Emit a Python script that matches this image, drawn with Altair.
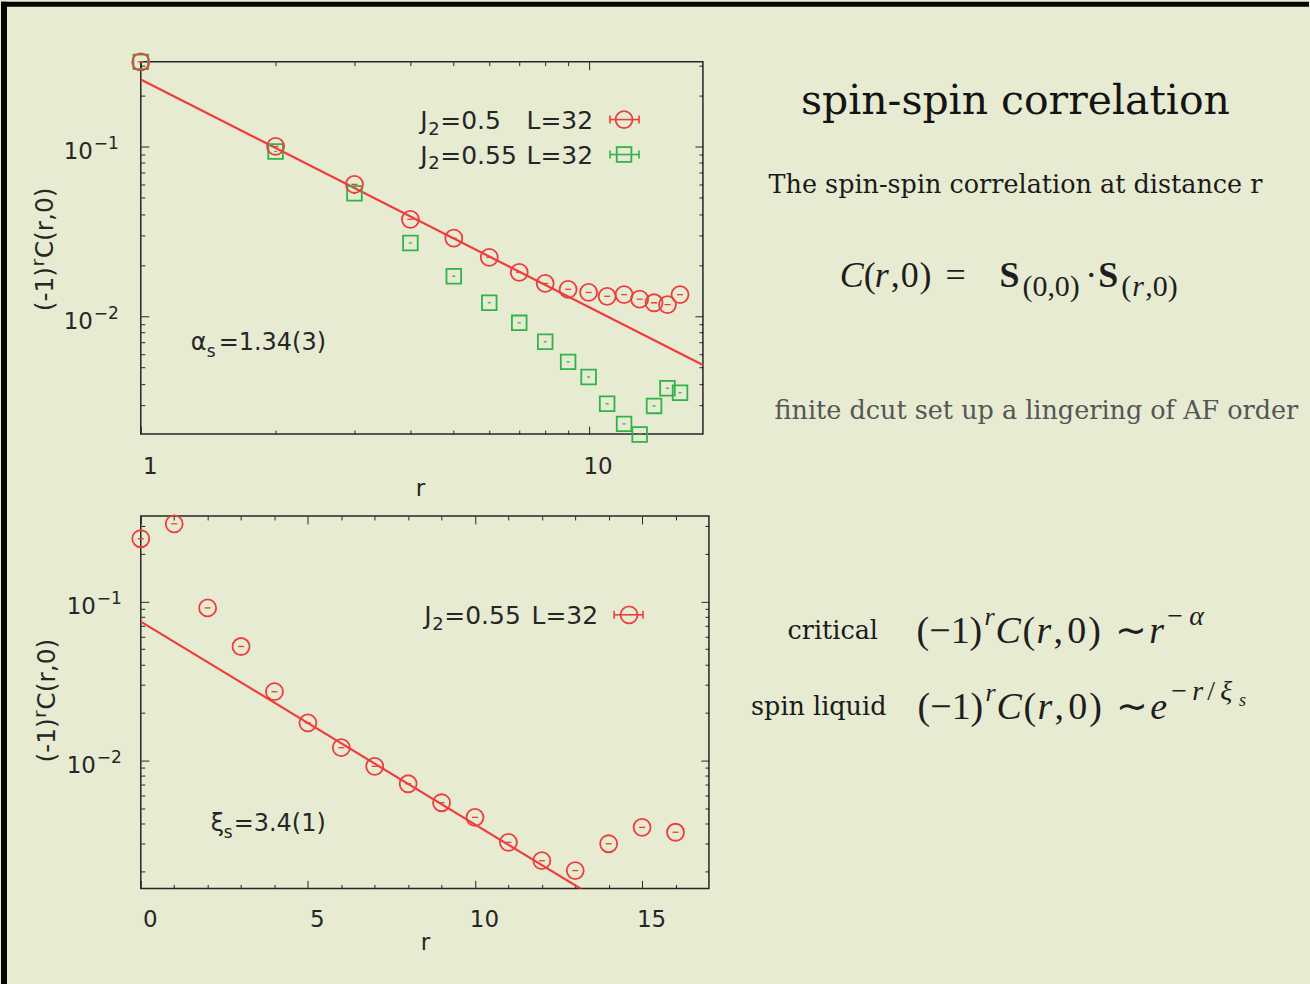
import altair as alt
import pandas as pd

# ---------------- data ----------------
# J2 = 0.5 and J2 = 0.55 staggered spin-spin correlation, L = 32 (log-log panel)
r_top = list(range(1, 17))
corr_j050 = [0.315, 0.100, 0.0598, 0.0372, 0.0288, 0.0222, 0.0181, 0.0156,
             0.0144, 0.0138, 0.0131, 0.0134, 0.0126, 0.0120, 0.0117, 0.0134]
corr_j055 = [0.315, 0.0934, 0.0529, 0.0270, 0.0172, 0.0120, 0.00914, 0.00707,
             0.00538, 0.00438, 0.00305, 0.00232, 0.00201, 0.00296, 0.00376, 0.00354]

# J2 = 0.55, L = 32 on a semi-log scale
r_bot = list(range(0, 17))
corr_bot = [0.248, 0.308, 0.0910, 0.0520, 0.0270, 0.0172, 0.0120, 0.00915,
            0.00711, 0.00540, 0.00437, 0.00304, 0.00233, 0.00202, 0.00298,
            0.00378, 0.00352]

# fits
alpha_s = 1.34      # C ~ A r^-alpha
pow_amp = 0.248
xi_s = 3.4          # C ~ B exp(-r/xi)
exp_amp = 0.0746

top_x_ticks = [1, 10]
top_x_minor = [2, 3, 4, 5, 6, 7, 8, 9]
y_major = [0.01, 0.1]
y_major_exp = ["\u22122", "\u22121"]
y_minor = [0.002, 0.003, 0.004, 0.005, 0.006, 0.007, 0.008, 0.009,
           0.02, 0.03, 0.04, 0.05, 0.06, 0.07, 0.08, 0.09, 0.2, 0.3]
bot_x_ticks = [0, 5, 10, 15]
bot_x_minor = [1, 2, 3, 4, 6, 7, 8, 9, 11, 12, 13, 14, 16]

# ---------------- style ----------------
BG = "#e7ebd2"
INK = "#262626"
RED = "#ee3d3d"
GREEN = "#2fb34a"
SANS = "DejaVu Sans"
SERIF = "DejaVu Serif"
MATH = "Liberation Serif"

ONE = pd.DataFrame({"k": [0]})

# panel geometry (page pixels)
OX1, OY1, W1, H1 = 140, 60, 563, 373
OX2, OY2, W2, H2 = 140, 515, 569, 373


def txt(s, x, y, size, ox, oy, font=SANS, color=INK, align="left",
        baseline="alphabetic", style=None, weight=None, angle=None):
    props = dict(text=s, font=font, fontSize=size, color=color,
                 align=align, baseline=baseline)
    if style:
        props["fontStyle"] = style
    if weight:
        props["fontWeight"] = weight
    if angle is not None:
        props["angle"] = angle
    return alt.Chart(ONE).mark_text(**props).encode(
        x=alt.value(x - ox), y=alt.value(y - oy))


def hrule(x1, x2, y, ox, oy, color, width=1.6):
    return alt.Chart(ONE).mark_rule(color=color, strokeWidth=width).encode(
        x=alt.value(x1 - ox), x2=alt.value(x2 - ox), y=alt.value(y - oy))


def vrule(x, y1, y2, ox, oy, color, width=1.6):
    return alt.Chart(ONE).mark_rule(color=color, strokeWidth=width).encode(
        x=alt.value(x - ox), y=alt.value(y1 - oy), y2=alt.value(y2 - oy))


def sym(x, y, ox, oy, shape, color, size):
    return alt.Chart(ONE).mark_point(shape=shape, filled=False, color=color,
                                     size=size, strokeWidth=1.8, opacity=1).encode(
        x=alt.value(x - ox), y=alt.value(y - oy))


def tick_axis(orient, values, size, labels=False, lab_off=0, lab_pad=0):
    kw = dict(orient=orient, values=values, tickSize=size, offset=-size,
              domain=False, grid=False, ticks=True, labels=labels,
              tickColor=INK, tickWidth=1)
    if labels:
        kw.update(labelFont=SANS, labelFontSize=23, labelColor=INK,
                  labelPadding=lab_pad, labelFlush=False, labelOverlap=False,
                  labelExpr="format(datum.value, 'd')", labelOffset=lab_off)
    return alt.Axis(**kw)


def axis_layers(df, xs, ys, xmaj, xmin, ymaj, ymin, xpad):
    specs = [("bottom", "left", 8, xmaj, ymaj, True),
             ("top", "right", 8, xmaj, ymaj, False),
             ("bottom", "left", 4, xmin, ymin, False),
             ("top", "right", 4, xmin, ymin, False)]
    out = []
    for xo, yo, size, xv, yv, lab in specs:
        out.append(
            alt.Chart(df).mark_point(opacity=0).encode(
                x=alt.X("r:Q", scale=xs, title=None,
                        axis=tick_axis(xo, xv, size, lab, 9, xpad)),
                y=alt.Y("c:Q", scale=ys, title=None,
                        axis=tick_axis(yo, yv, size, False)),
            )
        )
    return out


def decade_labels(ys, x_right):
    # "10" with a raised exponent, placed through the y scale
    lab = pd.DataFrame({"c": y_major, "e": y_major_exp})
    base = alt.Chart(lab).mark_text(text="10", font=SANS, fontSize=23, color=INK,
                                    align="right", baseline="alphabetic", dy=13).encode(
        x=alt.value(x_right), y=alt.Y("c:Q", scale=ys, axis=None))
    sup = alt.Chart(lab).mark_text(font=SANS, fontSize=17, color=INK,
                                   align="left", baseline="alphabetic", dy=3).encode(
        x=alt.value(x_right + 1), y=alt.Y("c:Q", scale=ys, axis=None), text="e:N")
    return [base, sup]


def ytitle(x_base, y_start, ox, oy):
    # (-1)^r C(r,0), rotated, reading upwards
    return [
        txt("(-1)", x_base, y_start, 25, ox, oy, angle=270),
        txt("r", x_base - 9, y_start - 45, 18, ox, oy, angle=270),
        txt("C(r,0)", x_base, y_start - 53, 25, ox, oy, angle=270),
    ]


# ---------------- top panel ----------------
xs1 = alt.Scale(type="log", domain=[1, 18], nice=False)
ys1 = alt.Scale(type="log", domain=[0.00202, 0.316], nice=False)

df050 = pd.DataFrame({"r": r_top, "c": corr_j050})
df055 = pd.DataFrame({"r": r_top, "c": corr_j055})
fit_r = [1, 18]
df_pow = pd.DataFrame({"r": fit_r, "c": [pow_amp * r ** (-alpha_s) for r in fit_r]})

o1 = (OX1, OY1)
top_layers = [
    alt.Chart(ONE).mark_rect(color="#050505").encode(
        x=alt.value(-OX1), x2=alt.value(1310 - OX1),
        y=alt.value(-OY1), y2=alt.value(5 - OY1)),
    alt.Chart(ONE).mark_rect(color="#050505").encode(
        x=alt.value(-OX1), x2=alt.value(6 - OX1),
        y=alt.value(-OY1), y2=alt.value(984 - OY1)),
]
top_layers += axis_layers(df050, xs1, ys1, top_x_ticks, top_x_minor, y_major,
                          [v for v in y_minor if v > 0.00202], 21)
top_layers += decade_labels(ys1, 92 - OX1)

top_layers.append(
    alt.Chart(df_pow).mark_line(color=RED, strokeWidth=2.2).encode(
        x=alt.X("r:Q", scale=xs1, axis=None), y=alt.Y("c:Q", scale=ys1, axis=None)))
for df, shape, color, size, dash in [(df055, "square", GREEN, 215, 3),
                                     (df050, "circle", RED, 290, 6)]:
    top_layers.append(
        alt.Chart(df).mark_point(shape=shape, filled=False, color=color, size=size,
                                 strokeWidth=1.8, opacity=1).encode(
            x=alt.X("r:Q", scale=xs1, axis=None), y=alt.Y("c:Q", scale=ys1, axis=None)))
    top_layers.append(
        alt.Chart(df).mark_tick(orient="horizontal", color=color, size=dash,
                                thickness=1.3, opacity=1).encode(
            x=alt.X("r:Q", scale=xs1, axis=None), y=alt.Y("c:Q", scale=ys1, axis=None)))

# key
for yy, label, shape, color, size in [(118, "=0.5", "circle", RED, 290),
                                      (153, "=0.55", "square", GREEN, 215)]:
    top_layers += [
        txt("J", 420, yy + 9, 25, *o1),
        txt("2", 428, yy + 15, 18, *o1),
        txt(label, 440, yy + 9, 25, *o1),
        txt("L=32", 593, yy + 9, 25, *o1, align="right"),
        hrule(610, 639, yy, *o1, color),
        vrule(610, yy - 4, yy + 4, *o1, color),
        vrule(639, yy - 4, yy + 4, *o1, color),
        sym(624, yy, *o1, shape, color, size),
    ]
# fit annotation and axis titles
top_layers += [
    txt("\u03b1", 190, 349, 24, *o1),
    txt("s", 206, 356, 17, *o1),
    txt("=1.34(3)", 218, 349, 24, *o1),
    txt("r", 420, 488, 23, *o1, baseline="middle", align="center"),
]
top_layers += ytitle(52, 310, *o1)

# slide text on the right
top_layers += [
    txt("spin-spin correlation", 1016, 112, 41, *o1, font=SERIF, color="#141414",
        align="center"),
    txt("The spin-spin correlation at distance r", 1016, 192, 25.5, *o1,
        font=SERIF, color="#1a1a1a", align="center"),
    txt("finite dcut set up a lingering of AF order", 1037, 418, 25.5, *o1,
        font=SERIF, color="#555555", align="center"),
    txt("critical", 833, 638, 25.5, *o1, font=SERIF, color="#1a1a1a", align="center"),
    txt("spin liquid", 819, 714, 25.5, *o1, font=SERIF, color="#1a1a1a", align="center"),
]

# C(r,0) = S(0,0) . S(r,0)
M, S = 36, 30
b0, s0 = 286, 295
math = [
    ("C", 840, b0, M, "italic", None),
    ("(", 864, b0, M, None, None),
    ("r", 875, b0, M, "italic", None),
    (",", 891, b0, M, None, None),
    ("0", 901, b0, M, None, None),
    (")", 920, b0, M, None, None),
    ("=", 946, b0, M, None, None),
    ("S", 1000, b0, M, None, "bold"),
    ("(0,0)", 1023, s0, S, None, None),
    ("\u00b7", 1086, b0, M, None, None),
    ("S", 1099, b0, M, None, "bold"),
    ("(", 1122, s0, S, None, None),
    ("r", 1133, s0, S, "italic", None),
    (",0)", 1146, s0, S, None, None),
]
# critical / spin liquid asymptotics
M2, S2 = 38, 28
for base, tail, dx in [(642, "pow", 0), (718, "exp", 1)]:
    math += [
        ("(\u22121)", 917 + dx, base, M2, None, None),
        ("r", 985 + dx, base - 18, S2 - 2, "italic", None),
        ("C", 996 + dx, base, M2, "italic", None),
        ("(", 1023 + dx, base, M2, None, None),
        ("r", 1037 + dx, base, M2, "italic", None),
        (",", 1054 + dx, base, M2, None, None),
        ("0", 1068 + dx, base, M2, None, None),
        (")", 1089 + dx, base, M2, None, None),
        ("\u223c", 1116 + dx, base, M2, None, None),
    ]
    if tail == "pow":
        math += [("r", 1150, base, M2, "italic", None),
                 ("\u2212", 1168, base - 18, S2, None, None),
                 ("\u03b1", 1190, base - 18, S2, "italic", None)]
    else:
        math += [("e", 1151, base, M2, "italic", None),
                 ("\u2212", 1172, base - 19, S2, None, None),
                 ("r", 1193, base - 19, S2, "italic", None),
                 ("/", 1208, base - 19, S2, None, None),
                 ("\u03be", 1221, base - 19, S2, "italic", None),
                 ("s", 1240, base - 13, 18, "italic", None)]

for s, x, y, size, style, weight in math:
    top_layers.append(txt(s, x, y, size, *o1, font=MATH, color="#1e1e1e",
                          style=style, weight=weight))

top = alt.layer(*top_layers).properties(width=W1, height=H1).resolve_axis(
    x="independent", y="independent")

# ---------------- bottom panel ----------------
xs2 = alt.Scale(type="linear", domain=[0, 17], nice=False, zero=False)
ys2 = alt.Scale(type="log", domain=[0.00156, 0.345], nice=False)

dfb = pd.DataFrame({"r": r_bot, "c": corr_bot})
fit_rb = [0, 17]
df_exp = pd.DataFrame({"r": fit_rb,
                       "c": [exp_amp * 2.718281828459045 ** (-r / xi_s) for r in fit_rb]})

o2 = (OX2, OY2)
bot_layers = axis_layers(dfb, xs2, ys2, bot_x_ticks, bot_x_minor, y_major, y_minor, 20)
bot_layers += decade_labels(ys2, 95 - OX2)
bot_layers.append(
    alt.Chart(df_exp).mark_line(color=RED, strokeWidth=2.2, clip=True).encode(
        x=alt.X("r:Q", scale=xs2, axis=None), y=alt.Y("c:Q", scale=ys2, axis=None)))
bot_layers.append(
    alt.Chart(dfb).mark_point(shape="circle", filled=False, color=RED, size=290,
                              strokeWidth=1.8, opacity=1).encode(
        x=alt.X("r:Q", scale=xs2, axis=None), y=alt.Y("c:Q", scale=ys2, axis=None)))
bot_layers.append(
    alt.Chart(dfb).mark_tick(orient="horizontal", color=RED, size=6,
                             thickness=1.3, opacity=1).encode(
        x=alt.X("r:Q", scale=xs2, axis=None), y=alt.Y("c:Q", scale=ys2, axis=None)))
yy = 614
bot_layers += [
    txt("J", 424, yy + 9, 25, *o2),
    txt("2", 432, yy + 15, 18, *o2),
    txt("=0.55", 444, yy + 9, 25, *o2),
    txt("L=32", 598, yy + 9, 25, *o2, align="right"),
    hrule(614, 643, yy, *o2, RED),
    vrule(614, yy - 4, yy + 4, *o2, RED),
    vrule(643, yy - 4, yy + 4, *o2, RED),
    sym(629, yy, *o2, "circle", RED, 290),
    txt("\u03be", 210, 831, 24, *o2),
    txt("s", 223, 838, 17, *o2),
    txt("=3.4(1)", 233, 831, 24, *o2),
    txt("r", 425, 943, 23, *o2, baseline="middle", align="center"),
]
bot_layers += ytitle(54, 762, *o2)

bottom = alt.layer(*bot_layers).properties(width=W2, height=H2).resolve_axis(
    x="independent", y="independent")

chart = alt.vconcat(top, bottom, spacing=OY2 - OY1 - H1, bounds="flush").properties(
    padding=0, background=BG
).configure_view(stroke=INK, strokeWidth=1.5)

chart.save("out.html", embed_options={"renderer": "svg", "actions": False})
